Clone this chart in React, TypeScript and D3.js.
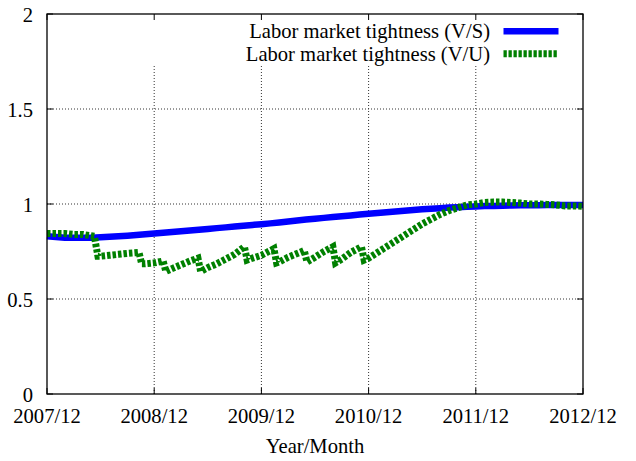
import React from 'react';
import * as d3 from 'd3';

// months since 2007/12
const xTickMonths = [0, 12, 24, 36, 48, 60];
const xTickLabels = ['2007/12', '2008/12', '2009/12', '2010/12', '2011/12', '2012/12'];
const yTicks = [0, 0.5, 1, 1.5, 2];
const yTickLabels = ['0', '0.5', '1', '1.5', '2'];

const seriesNames = ['Labor market tightness (V/S)', 'Labor market tightness (V/U)'];

// V/S, monthly 2007/12 .. 2012/12
const vsValues = [
  0.830, 0.826, 0.823, 0.822, 0.822, 0.823, 0.825, 0.827, 0.830, 0.833, 0.837, 0.841, 0.845,
  0.849, 0.853, 0.857, 0.861, 0.865, 0.869, 0.873, 0.877, 0.881, 0.886, 0.890, 0.894, 0.898,
  0.903, 0.908, 0.913, 0.918, 0.922, 0.927, 0.931, 0.936, 0.940, 0.945, 0.949, 0.953,
  0.957, 0.961, 0.965, 0.969, 0.972, 0.975, 0.978, 0.981, 0.983, 0.985, 0.987, 0.989,
  0.990, 0.991, 0.992, 0.993, 0.994, 0.994, 0.995, 0.995, 0.995, 0.995, 0.995,
];

// V/U: [month, value] (steps fall inside a month)
const vuPoints: [number, number][] = [
  [0, 0.845], [1, 0.845], [2, 0.845], [3, 0.84], [4, 0.84], [5.3, 0.83],
  [5.7, 0.725], [6, 0.725], [7, 0.73], [8, 0.735], [9, 0.74], [10.3, 0.745],
  [10.6, 0.685], [11, 0.685], [12, 0.69], [13, 0.70],
  [13.3, 0.645], [14, 0.66], [15, 0.68], [16, 0.70], [16.9, 0.715],
  [17.2, 0.645], [18, 0.665], [19, 0.685], [20, 0.71], [21, 0.735], [22.1, 0.775],
  [22.4, 0.705], [23, 0.715], [24, 0.73], [25.4, 0.765],
  [25.7, 0.69], [26, 0.695], [27, 0.72], [28.8, 0.755],
  [29.1, 0.695], [30, 0.72], [31, 0.75], [32, 0.775],
  [32.3, 0.69], [33, 0.71], [34, 0.745], [35.2, 0.775],
  [35.5, 0.705], [36, 0.715], [37, 0.745], [38, 0.775], [39, 0.805], [40, 0.835],
  [41, 0.865], [42, 0.895], [43, 0.92], [44, 0.945], [45, 0.965], [46, 0.98],
  [47, 0.995], [48, 1.0], [49, 1.008], [50, 1.01], [51, 1.01], [52, 1.008],
  [53, 1.005], [54, 1.0], [55, 1.0], [56, 0.998], [57, 0.995], [58, 0.99],
  [59, 0.99], [60, 0.988],
];

const W = 636;
const H = 461;
const plot = { left: 47, right: 583, top: 14, bottom: 394 };
const legendBottom = 66;
const font = '"Liberation Serif", "Times New Roman", serif';
const fs = 20.6;

const App: React.FC = () => {
  const x = d3.scaleLinear().domain([0, 60]).range([plot.left, plot.right]);
  const y = d3.scaleLinear().domain([0, 2]).range([plot.bottom, plot.top]);

  const line = d3.line<[number, number]>()
    .x(d => x(d[0]))
    .y(d => y(d[1]));

  const vsPoints: [number, number][] = vsValues.map((v, i) => [i, v]);

  return (
    <svg width={W} height={H} style={{ position: 'absolute', left: 0, top: 0, background: '#fff' }}
      fontFamily={font}>
      <rect width={W} height={H} fill="#fff" />

      {/* grid */}
      {yTicks.slice(1, -1).map(t => (
        <line key={'gy' + t} x1={plot.left} x2={plot.right} y1={y(t)} y2={y(t)}
          stroke="#333" strokeWidth={1} strokeDasharray="1,2" />
      ))}
      {xTickMonths.slice(1, -1).map(m => (
        <line key={'gx' + m} x1={x(m)} x2={x(m)} y1={legendBottom} y2={plot.bottom}
          stroke="#333" strokeWidth={1} strokeDasharray="1,2" />
      ))}

      {/* ticks, mirrored on all sides */}
      {yTicks.map(t => (
        <g key={'ty' + t}>
          <line x1={plot.left} x2={plot.left + 6} y1={y(t)} y2={y(t)} stroke="#000" />
          <line x1={plot.right} x2={plot.right - 6} y1={y(t)} y2={y(t)} stroke="#000" />
        </g>
      ))}
      {xTickMonths.map(m => (
        <g key={'tx' + m}>
          <line x1={x(m)} x2={x(m)} y1={plot.bottom} y2={plot.bottom - 6} stroke="#000" />
          <line x1={x(m)} x2={x(m)} y1={plot.top} y2={plot.top + 6} stroke="#000" />
        </g>
      ))}

      {/* series */}
      <path d={line(vsPoints) ?? ''} fill="none" stroke="#0000ff" strokeWidth={6.5} />
      <path d={line(vuPoints) ?? ''} fill="none" stroke="#008000" strokeWidth={7}
        strokeDasharray="3.5,2" />

      {/* border */}
      <rect x={plot.left} y={plot.top} width={plot.right - plot.left} height={plot.bottom - plot.top}
        fill="none" stroke="#000" strokeWidth={1.3} />

      {/* tick labels */}
      {yTicks.map((t, i) => (
        <text key={'ly' + t} x={33} y={y(t) + 7.5} textAnchor="end" fontSize={fs}>{yTickLabels[i]}</text>
      ))}
      {xTickMonths.map((m, i) => (
        <text key={'lx' + m} x={x(m)} y={422.5} textAnchor="middle" fontSize={fs}>{xTickLabels[i]}</text>
      ))}
      <text x={(plot.left + plot.right) / 2} y={452.5} textAnchor="middle" fontSize={fs}>Year/Month</text>

      {/* legend */}
      <text x={490} y={38.3} textAnchor="end" fontSize={fs}>{seriesNames[0]}</text>
      <line x1={503.5} x2={558.5} y1={31.3} y2={31.3} stroke="#0000ff" strokeWidth={6.5} />
      <text x={490} y={60.7} textAnchor="end" fontSize={fs}>{seriesNames[1]}</text>
      <line x1={503.5} x2={558.5} y1={53.7} y2={53.7} stroke="#008000" strokeWidth={7}
        strokeDasharray="3.3,1.7" />
    </svg>
  );
};

export default App;
